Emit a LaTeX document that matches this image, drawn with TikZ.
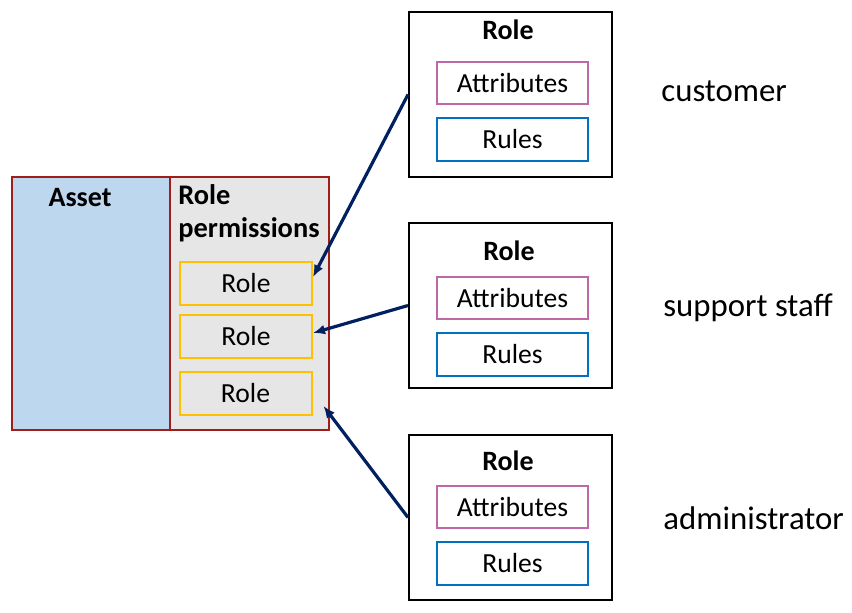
\documentclass[tikz,border=0pt]{standalone}
\usepackage{fontspec}
\setmainfont{Carlito}
\usepackage{tikz}
\usetikzlibrary{arrows.meta,positioning,calc}
\definecolor{assetblue}{HTML}{BDD7EE}
\definecolor{assetred}{HTML}{A01E1A}
\definecolor{permgray}{HTML}{E7E6E6}
\definecolor{roleamber}{HTML}{FFC000}
\definecolor{attrpink}{HTML}{BF68A8}
\definecolor{rulesblue}{HTML}{0070C0}
\definecolor{arrownavy}{HTML}{002060}

\begin{document}
\begin{tikzpicture}[x=0.5pt, y=-0.5pt, font=\fontsize{13.8}{16}\selectfont, >={Latex[length=6pt,width=5pt]},
  panel/.style={draw=assetred,line width=1pt,minimum height=126.5pt,inner sep=0pt},
  permrole/.style={draw=roleamber,line width=1pt,minimum width=66pt,minimum height=21.5pt},
  rolebox/.style={draw=black,line width=1pt,minimum width=101.5pt,minimum height=82.5pt},
  attrbox/.style={draw=attrpink,line width=1pt,minimum width=75.5pt,minimum height=21pt},
  rulesbox/.style={draw=rulesblue,line width=1pt,minimum width=75.5pt,minimum height=21.5pt},
  link/.style={->,arrownavy,line width=1.6pt},
  rolelabel/.style={anchor=west,inner sep=0pt,font=\fontsize{16.4}{19}\selectfont}]
  \useasboundingbox (0,0) rectangle (852,612);

  % asset and its role permissions
  \node[panel,fill=assetblue,minimum width=79pt] (asset) at (91,303.5) {};
  \node[panel,fill=permgray,minimum width=79.5pt] (perm) at (249.5,303.5) {};
  \node[font=\fontsize{14}{16}\bfseries] at (80,198) {Asset};
  \node[anchor=north west,align=left,inner sep=0pt,font=\fontsize{14.2}{16.8}\bfseries] (permtitle) at (178,184) {Role\\permissions};
  \node[permrole] (pr1) at (246,283) {Role};
  \node[permrole] (pr2) at (246,336.5) {Role};
  \node[permrole] (pr3) at (245.5,393.5) {Role};

  % roles
  \node[rolebox] (rb1) at (510.5,94.5) {};
  \node[font=\fontsize{14}{16}\bfseries] (rt1) at (508,30) {Role};
  \node[attrbox] (at1) at (512.5,83) {Attributes};
  \node[rulesbox,below=6pt of at1] (ru1) {Rules};

  \node[rolebox] (rb2) at (510.5,305.5) {};
  \node[font=\fontsize{14}{16}\bfseries] (rt2) at (509,251) {Role};
  \node[attrbox] (at2) at (512.5,298) {Attributes};
  \node[rulesbox,below=6pt of at2] (ru2) {Rules};

  \node[rolebox] (rb3) at (510.5,517.5) {};
  \node[font=\fontsize{14}{16}\bfseries] (rt3) at (508,461) {Role};
  \node[attrbox] (at3) at (512.5,507) {Attributes};
  \node[rulesbox,below=6pt of at3] (ru3) {Rules};

  \node[rolelabel] (cust) at (661,91) {customer};
  \node[rolelabel] (supp) at (663,308) {support staff};
  \node[rolelabel] (admin) at (663,518) {administrator};

  % links to the permission slots
  \draw[link] (rb1.west) -- ([yshift=3pt]pr1.east);
  \draw[link] (rb2.west) -- ([yshift=1.75pt]pr2.east);
  \draw[link] (rb3.west) -- ([xshift=5.5pt,yshift=5pt]pr3.south east);
\end{tikzpicture}
\end{document}
